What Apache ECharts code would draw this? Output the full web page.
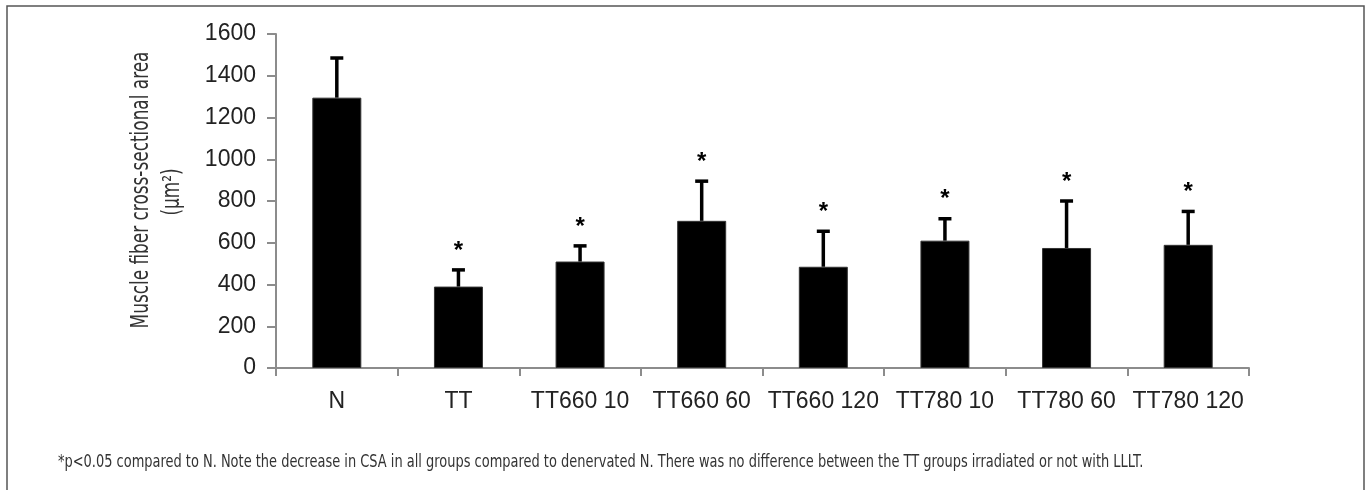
<!DOCTYPE html>
<html>
<head>
<meta charset="utf-8">
<script src="https://cdn.jsdelivr.net/npm/echarts@6/dist/echarts.min.js"></script>
<style>
html,body{margin:0;padding:0;background:#fff;}
#chart{width:1371px;height:490px;}
</style>
</head>
<body>
<div id="chart"></div>
<script>
const categories = ['N', 'TT', 'TT660 10', 'TT660 60', 'TT660 120', 'TT780 10', 'TT780 60', 'TT780 120'];
const means = [1295, 390, 510, 705, 485, 610, 575, 590];
const sd = [190, 80, 75, 190, 170, 105, 225, 160];
const significant = [false, true, true, true, true, true, true, true];
const yTicks = [0, 200, 400, 600, 800, 1000, 1200, 1400, 1600];
const yTitle = 'Muscle fiber cross-sectional area';
const yUnit = '(\u03bcm\u00b2)';
const footnote = '*p<0.05 compared to N. Note the decrease in CSA in all groups compared to denervated N. There was no difference between the TT groups irradiated or not with LLLT.';

const condensed = '"Liberation Sans Narrow", "Arial Narrow", "DejaVu Sans Condensed", "Liberation Sans", Arial, sans-serif';
const regular = '"Liberation Sans", Arial, Helvetica, sans-serif';

const errData = categories.map((c, i) => [i, means[i], means[i] + sd[i], significant[i] ? 1 : 0]);

const chart = echarts.init(document.getElementById('chart'));
chart.setOption({
  animation: false,
  backgroundColor: '#fff',
  grid: { left: 276, right: 122, top: 34, bottom: 122, containLabel: false },
  xAxis: {
    type: 'category',
    data: categories,
    boundaryGap: true,
    axisLine: { lineStyle: { color: '#8c8c8c', width: 2 } },
    axisTick: { show: true, length: 8, lineStyle: { color: '#8c8c8c', width: 2 } },
    axisLabel: { color: '#222', fontSize: 23, fontFamily: regular, margin: 22, interval: 0 }
  },
  yAxis: {
    type: 'value',
    min: yTicks[0],
    max: yTicks[yTicks.length - 1],
    interval: yTicks[1] - yTicks[0],
    axisLine: { show: true, lineStyle: { color: '#8c8c8c', width: 2 } },
    axisTick: { show: true, length: 9, lineStyle: { color: '#8c8c8c', width: 2 } },
    splitLine: { show: false },
    axisLabel: { color: '#222', fontSize: 23, fontFamily: regular, margin: 20, formatter: function (v) { return String(v); } }
  },
  series: [
    {
      type: 'bar',
      data: means,
      barWidth: 49,
      itemStyle: { color: '#000', borderColor: '#333', borderWidth: 1 },
      z: 2
    },
    {
      type: 'custom',
      data: errData,
      z: 3,
      renderItem: function (params, api) {
        const x = api.value(0);
        const p0 = api.coord([x, api.value(1)]);
        const p1 = api.coord([x, api.value(2)]);
        const children = [
          { type: 'line', shape: { x1: p0[0], y1: p0[1], x2: p1[0], y2: p1[1] }, style: { stroke: '#000', lineWidth: 3.5 } },
          { type: 'line', shape: { x1: p1[0] - 6.5, y1: p1[1], x2: p1[0] + 6.5, y2: p1[1] }, style: { stroke: '#000', lineWidth: 3.5 } }
        ];
        if (api.value(3)) {
          children.push({
            type: 'text',
            style: { text: '*', x: p1[0], y: p1[1] - 7, align: 'center', verticalAlign: 'bottom', fontSize: 24, fontWeight: 'bold', fontFamily: regular, fill: '#000' }
          });
        }
        return { type: 'group', children: children };
      }
    }
  ],
  graphic: [
    { type: 'rect', silent: true, shape: { x: 7, y: 6, width: 1357, height: 520 }, style: { fill: null, stroke: '#555', lineWidth: 1.5 } },
    { type: 'text', silent: true, x: 142, y: 190, rotation: Math.PI / 2, scaleX: 0.783, style: { text: yTitle, align: 'center', verticalAlign: 'middle', fontSize: 24, fontFamily: condensed, fill: '#333' } },
    { type: 'text', silent: true, x: 173, y: 192, rotation: Math.PI / 2, scaleX: 0.783, style: { text: yUnit, align: 'center', verticalAlign: 'middle', fontSize: 24, fontFamily: condensed, fill: '#333' } },
    { type: 'text', silent: true, x: 58, y: 462, scaleX: 0.824, style: { text: footnote, align: 'left', verticalAlign: 'middle', fontSize: 17.5, fontFamily: condensed, fill: '#333' } }
  ]
});
</script>
</body>
</html>
